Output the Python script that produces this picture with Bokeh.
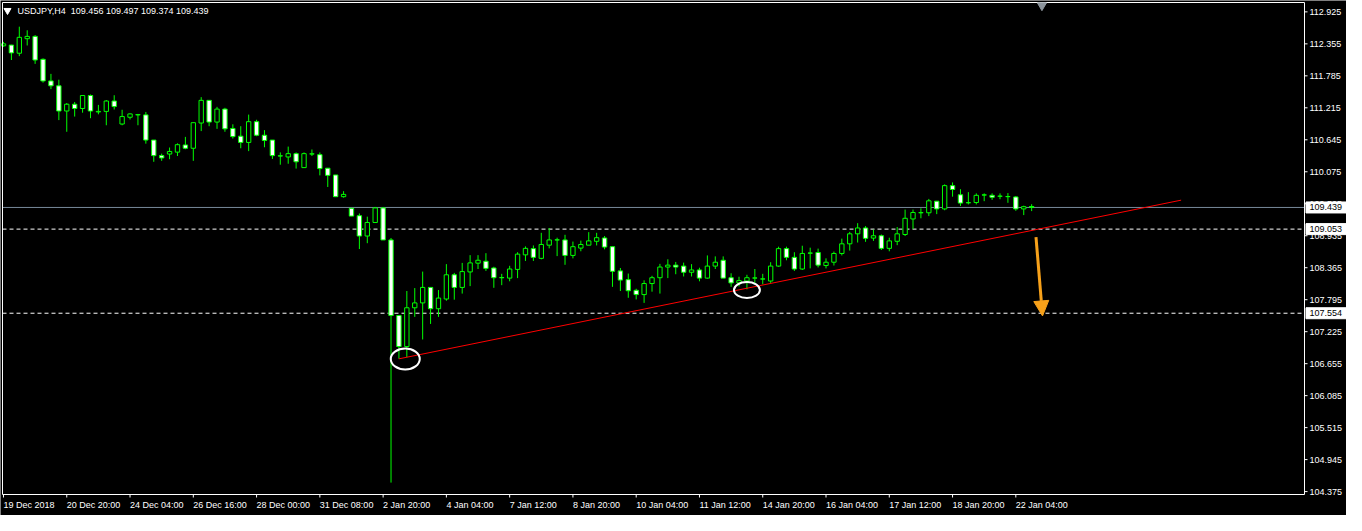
from bokeh.plotting import figure
from bokeh.models import ColumnDataSource, Arrow, NormalHead
from bokeh.core.properties import value
from bokeh.embed import file_html
from bokeh.resources import INLINE

# ---------------- data (USDJPY, H4) ----------------
opens = [112.320, 112.333, 112.188, 112.447, 112.488, 112.079, 111.694, 111.607, 111.158, 111.279,
         111.203, 111.434, 111.141, 111.151, 111.336, 110.926, 111.047, 111.089, 111.089, 110.640,
         110.363, 110.391, 110.425, 110.553, 110.494, 110.944, 111.348, 110.961, 111.192, 110.847,
         110.709, 110.598, 110.968, 110.726, 110.640, 110.356, 110.339, 110.398, 110.149, 110.391,
         110.380, 110.139, 110.018, 109.631, 109.424, 109.292, 108.930, 109.171, 109.431, 108.860,
         107.513, 106.960, 107.651, 107.738, 108.014, 107.634, 107.807, 108.239, 108.014, 108.290,
         108.446, 108.480, 108.360, 108.187, 108.180, 108.335, 108.594, 108.705, 108.532, 108.767,
         108.860, 108.860, 108.584, 108.715, 108.767, 108.836, 108.895, 108.740, 108.308, 108.152,
         107.962, 107.886, 108.083, 108.187, 108.377, 108.411, 108.394, 108.284, 108.325, 108.180,
         108.394, 108.498, 108.187, 108.094, 108.128, 108.180, 108.163, 108.128, 108.394, 108.705,
         108.550, 108.342, 108.624, 108.636, 108.404, 108.463, 108.619, 108.791, 108.969, 109.073,
         108.893, 108.935, 108.710, 108.836, 108.957, 109.234, 109.344, 109.344, 109.551, 109.413,
         109.828, 109.665, 109.522, 109.527, 109.660, 109.655, 109.638, 109.631, 109.626, 109.413,
         109.456]
highs = [112.390, 112.338, 112.661, 112.597, 112.510, 112.096, 111.820, 111.716, 111.301, 111.319,
         111.434, 111.452, 111.267, 111.353, 111.439, 111.180, 111.116, 111.106, 111.141, 110.640,
         110.398, 110.507, 110.581, 110.697, 110.950, 111.405, 111.348, 111.232, 111.215, 110.921,
         110.887, 111.094, 111.002, 110.817, 110.640, 110.420, 110.524, 110.420, 110.420, 110.472,
         110.420, 110.139, 110.018, 109.729, 109.424, 109.332, 109.275, 109.448, 109.448, 108.895,
         107.513, 107.950, 108.002, 108.296, 108.014, 107.967, 108.429, 108.273, 108.451, 108.589,
         108.589, 108.624, 108.382, 108.256, 108.399, 108.641, 108.745, 108.762, 108.987, 109.073,
         108.900, 108.952, 108.831, 108.848, 108.999, 108.987, 108.930, 108.740, 108.360, 108.261,
         107.990, 108.140, 108.221, 108.434, 108.515, 108.468, 108.456, 108.429, 108.365, 108.584,
         108.567, 108.567, 108.266, 108.204, 108.239, 108.342, 108.256, 108.463, 108.740, 108.740,
         108.641, 108.757, 108.722, 108.705, 108.532, 108.653, 108.883, 109.004, 109.159, 109.107,
         109.044, 108.957, 108.900, 109.090, 109.401, 109.401, 109.424, 109.591, 109.551, 109.850,
         109.885, 109.764, 109.712, 109.690, 109.690, 109.690, 109.690, 109.695, 109.643, 109.470,
         109.497]
lows = [112.303, 112.067, 112.136, 112.326, 111.998, 111.664, 111.548, 110.996, 110.788, 111.059,
        111.128, 111.030, 111.099, 110.904, 111.185, 110.904, 111.007, 110.904, 110.576, 110.253,
        110.270, 110.299, 110.356, 110.477, 110.270, 110.800, 110.887, 110.840, 110.788, 110.667,
        110.494, 110.443, 110.709, 110.512, 110.304, 110.201, 110.218, 110.132, 110.149, 110.356,
        110.011, 109.804, 109.631, 109.614, 109.285, 108.698, 108.802, 109.171, 108.860, 104.535,
        106.741, 106.770, 107.489, 107.086, 107.363, 107.489, 107.777, 107.795, 107.904, 108.037,
        108.342, 108.308, 108.007, 108.054, 108.123, 108.180, 108.486, 108.486, 108.515, 108.710,
        108.572, 108.417, 108.532, 108.658, 108.767, 108.762, 108.693, 108.024, 107.950, 107.829,
        107.800, 107.738, 107.938, 107.904, 108.180, 108.249, 108.209, 108.209, 108.123, 108.170,
        108.342, 108.180, 108.024, 108.031, 107.980, 108.076, 108.071, 108.094, 108.382, 108.498,
        108.308, 108.325, 108.353, 108.370, 108.353, 108.404, 108.584, 108.670, 108.814, 108.826,
        108.843, 108.681, 108.658, 108.767, 108.930, 109.056, 109.246, 109.285, 109.320, 109.389,
        109.631, 109.465, 109.493, 109.493, 109.551, 109.574, 109.586, 109.522, 109.379, 109.303,
        109.374]
closes = [112.355, 112.194, 112.471, 112.488, 112.067, 111.694, 111.607, 111.158, 111.279, 111.203,
          111.434, 111.158, 111.151, 111.336, 111.237, 111.059, 111.106, 111.094, 110.640, 110.363,
          110.322, 110.437, 110.558, 110.494, 110.950, 111.348, 110.961, 111.192, 110.840, 110.702,
          110.598, 110.968, 110.726, 110.633, 110.363, 110.360, 110.398, 110.253, 110.398, 110.395,
          110.132, 110.011, 109.631, 109.672, 109.285, 108.930, 109.171, 109.431, 108.860, 107.513,
          106.960, 107.651, 107.738, 108.014, 107.634, 107.824, 108.239, 108.014, 108.296, 108.451,
          108.498, 108.353, 108.187, 108.190, 108.342, 108.607, 108.710, 108.550, 108.779, 108.860,
          108.862, 108.584, 108.740, 108.779, 108.843, 108.900, 108.733, 108.301, 108.145, 107.955,
          107.886, 108.083, 108.187, 108.377, 108.411, 108.377, 108.284, 108.325, 108.180, 108.394,
          108.463, 108.180, 108.094, 108.135, 108.187, 108.183, 108.166, 108.394, 108.705, 108.550,
          108.342, 108.619, 108.627, 108.411, 108.463, 108.619, 108.791, 108.969, 109.073, 108.888,
          108.935, 108.710, 108.843, 108.969, 109.246, 109.349, 109.347, 109.557, 109.413, 109.828,
          109.759, 109.517, 109.525, 109.655, 109.663, 109.620, 109.641, 109.634, 109.413, 109.453,
          109.439]

time_labels = ["19 Dec 2018", "20 Dec 20:00", "24 Dec 04:00", "26 Dec 16:00", "28 Dec 00:00",
               "31 Dec 08:00", "2 Jan 20:00", "4 Jan 04:00", "7 Jan 12:00", "8 Jan 20:00",
               "10 Jan 04:00", "11 Jan 12:00", "14 Jan 20:00", "16 Jan 04:00", "17 Jan 12:00",
               "18 Jan 20:00", "22 Jan 04:00"]
bars_per_label = 8
price_ticks = [112.925, 112.355, 111.785, 111.215, 110.645, 110.075, 109.505, 108.935,
               108.365, 107.795, 107.225, 106.655, 106.085, 105.515, 104.945, 104.375]

bid_price = 109.439
levels = [109.053, 107.554]
trend_x = [50, 148.9]
trend_y = [106.741, 109.569]
circle_x = [50.8, 94.0]
circle_y = [106.738, 107.968]
arrow_from = (130.55, 108.912)
arrow_to = (131.375, 107.506)
shift_bar = 131.3
header = "USDJPY,H4\u00a0 109.456 109.497 109.374 109.439"

# ---------------- geometry of the terminal window ----------------
W, H = 1346, 515
CH_L, CH_R = -0.125, 164.5          # chart border, in bar units
P_TOP, P_BOT = 113.092, 104.323     # chart border, in price units
left_px, right_px, top_px, bot_px = 2, 1304, 2, 494
ux = (CH_R - CH_L) / (right_px - left_px)     # bar units per pixel
uy = (P_TOP - P_BOT) / (bot_px - top_px)      # price units per pixel
x_start = CH_L - left_px * ux
x_end = x_start + W * ux
y_end = P_TOP + top_px * uy
y_start = y_end - H * uy

FONT = value("Liberation Sans")
FS = value("9px")
GREEN = "#00FF00"
ORANGE = "#F7A11A"

p = figure(width=W, height=H, x_range=(x_start, x_end), y_range=(y_start, y_end),
           output_backend="svg", toolbar_location=None,
           x_axis_location=None, y_axis_location=None,
           background_fill_color="black", border_fill_color="black",
           min_border_left=0, min_border_right=0, min_border_top=0, min_border_bottom=0)
p.grid.visible = False
p.outline_line_color = None

# horizontal levels
p.line([CH_L, CH_R], [bid_price, bid_price], line_color="#778899", line_width=1)
for lv in levels:
    p.line([CH_L, CH_R], [lv, lv], line_color="white", line_width=1, line_dash="4 3")

# candles
n = len(opens)
src = ColumnDataSource(dict(
    x=list(range(n)), h=highs, l=lows,
    top=[max(a, b) for a, b in zip(opens, closes)],
    bot=[min(a, b) for a, b in zip(opens, closes)],
    fill=["white" if c < o else "black" for o, c in zip(opens, closes)],
))
p.segment(x0="x", y0="l", x1="x", y1="h", source=src, line_color=GREEN, line_width=1)
p.vbar(x="x", width=0.55, top="top", bottom="bot", source=src,
       fill_color="fill", line_color=GREEN, line_width=1)

# trend line, circles, arrow
p.line(trend_x, trend_y, line_color="#FF0000", line_width=1)
p.ellipse(x=circle_x, y=circle_y, width=[29, 26], height=[21, 16],
          width_units="screen", height_units="screen",
          fill_alpha=0, line_color="white", line_width=2)
p.add_layout(Arrow(end=NormalHead(size=15, fill_color=ORANGE, line_color=ORANGE),
                   x_start=arrow_from[0], y_start=arrow_from[1],
                   x_end=arrow_to[0], y_end=arrow_to[1],
                   line_color=ORANGE, line_width=3))

# chart border
p.line([CH_L, CH_L, CH_R, CH_R, CH_L], [P_BOT, P_TOP, P_TOP, P_BOT, P_BOT],
       line_color="white", line_width=1)

# header
hy = P_TOP - 8 * uy
p.scatter(x=[CH_L + 5 * ux], y=[hy], marker="inverted_triangle", size=7,
          fill_color="white", line_color="white")
p.text(x=[CH_L + 15 * ux], y=[hy], text=[header], text_color="white", text_font=FONT,
       text_font_size=FS, text_align="left", text_baseline="middle")

# shift marker
p.scatter(x=[shift_bar], y=[P_TOP - 3 * uy], marker="inverted_triangle", size=9,
          fill_color="#8C949C", line_color="#8C949C")

# price scale (right)
nt = len(price_ticks)
p.segment(x0=[CH_R] * nt, y0=price_ticks, x1=[CH_R + 3 * ux] * nt, y1=price_ticks,
          line_color="white", line_width=1)
p.text(x=[CH_R + 5 * ux] * nt, y=price_ticks, text=["%.3f" % t for t in price_ticks],
       text_color="white", text_font=FONT, text_font_size=FS,
       text_align="left", text_baseline="middle")

box_vals = [bid_price] + levels
nb = len(box_vals)
p.rect(x=[CH_R + 22 * ux] * nb, y=box_vals, width=[41] * nb, height=[11] * nb,
       width_units="screen", height_units="screen",
       fill_color="white", line_color="white")
p.text(x=[CH_R + 5 * ux] * nb, y=box_vals, text=["%.3f" % v for v in box_vals],
       text_color="black", text_font=FONT, text_font_size=FS,
       text_align="left", text_baseline="middle")

# time scale (bottom)
tx = [bars_per_label * k for k in range(len(time_labels))]
ntl = len(tx)
p.segment(x0=tx, y0=[P_BOT] * ntl, x1=tx, y1=[P_BOT - 3 * uy] * ntl,
          line_color="white", line_width=1)
p.text(x=tx, y=[P_BOT - 10 * uy] * ntl, text=time_labels,
       text_color="white", text_font=FONT, text_font_size=FS,
       text_align="left", text_baseline="middle")

open("out.html", "w").write(file_html(p, INLINE))
